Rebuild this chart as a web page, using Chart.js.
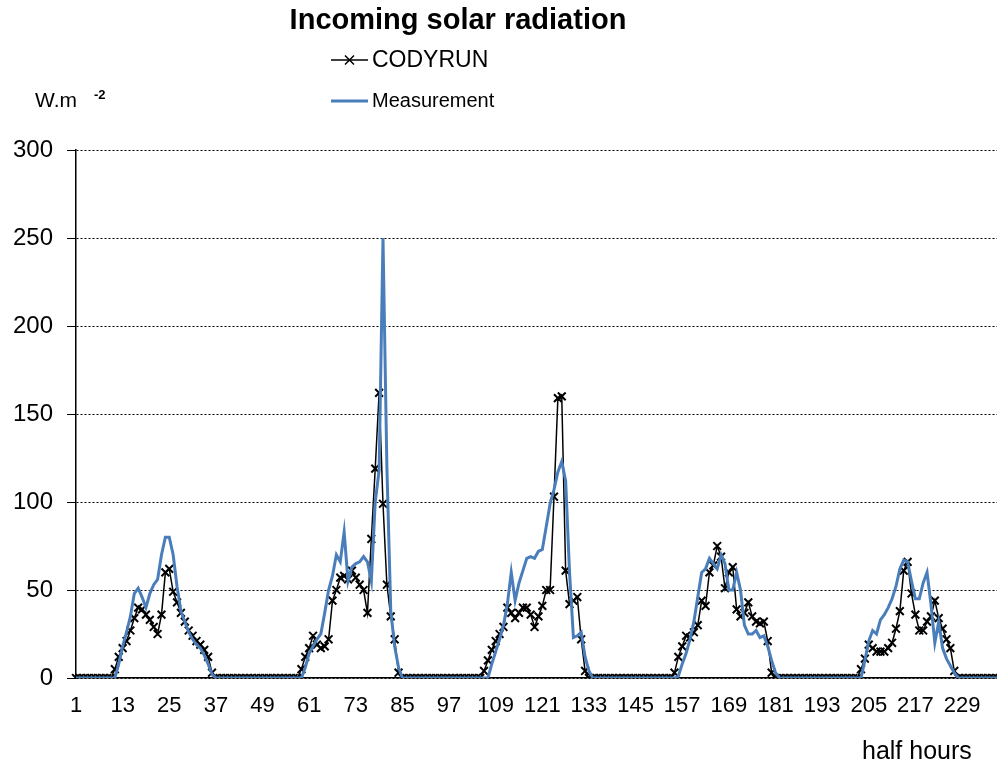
<!DOCTYPE html>
<html>
<head>
<meta charset="utf-8">
<script src="https://cdn.jsdelivr.net/npm/chart.js@4.4.0/dist/chart.umd.min.js"></script>
<style>
  html, body { margin: 0; padding: 0; background: #fff; }
  #wrap { position: relative; width: 997px; height: 772px; }
</style>
</head>
<body>
<div id="wrap"><canvas id="solarChart" width="997" height="772"></canvas></div>
<script>
// half-hour index 1..238 (5 days shown)
const halfHours = [];
for (let i = 1; i <= 238; i++) halfHours.push(String(i));

// W.m-2
const codyrun = [
  0,0,0,0,0,0,0,0,0,0,5,12,
  17,21,27,34,40,39,36,33,29,25,36,60,
  62,49,43,37,32,27,24,21,19,16,12,3,
  0,0,0,0,0,0,0,0,0,0,0,0,
  0,0,0,0,0,0,0,0,0,0,5,12,
  17,24,19,17,18,22,44,50,57,58,56,61,
  57,53,50,37,79,119,162,99,53,35,22,3,
  0,0,0,0,0,0,0,0,0,0,0,0,
  0,0,0,0,0,0,0,0,0,4,10,16,
  21,25,29,40,37,34,37,40,40,36,29,35,
  41,50,50,103,159,160,61,42,44,46,22,4,
  0,0,0,0,0,0,0,0,0,0,0,0,
  0,0,0,0,0,0,0,0,0,0,3,12,
  18,24,23,26,30,44,41,60,64,75,69,51,
  60,63,39,35,37,43,35,32,31,32,21,3,
  0,0,0,0,0,0,0,0,0,0,0,0,
  0,0,0,0,0,0,0,0,0,0,5,11,
  19,17,15,15,15,17,20,28,38,61,66,48,
  36,27,27,32,35,44,34,28,22,17,4,0,
  0,0,0,0,0,0,0,0,0,0
];

const measurement = [
  0,0,0,0,0,0,0,0,0,0,0,8,
  18,26,35,48,51,46,40,48,53,56,70,80,
  80,70,52,38,32,26,22,19,17,13,8,2,
  0,0,0,0,0,0,0,0,0,0,0,0,
  0,0,0,0,0,0,0,0,0,0,0,6,
  14,18,22,25,37,50,58,70,66,83,55,63,
  65,66,69,66,55,100,118,250,120,38,18,6,
  0,0,0,0,0,0,0,0,0,0,0,0,
  0,0,0,0,0,0,0,0,0,0,0,8,
  15,22,30,42,60,44,54,61,68,69,68,72,
  73,86,99,107,117,123,112,60,23,24,26,12,
  4,0,0,0,0,0,0,0,0,0,0,0,
  0,0,0,0,0,0,0,0,0,0,0,1,
  8,14,22,32,46,60,62,68,65,62,70,65,
  50,50,60,50,30,25,25,27,23,24,18,10,
  3,0,0,0,0,0,0,0,0,0,0,0,
  0,0,0,0,0,0,0,0,0,0,0,10,
  21,27,25,33,36,40,45,52,62,67,66,55,
  45,45,54,60,42,20,32,17,11,7,3,0,
  0,0,0,0,0,0,0,0,0,0
];

const labelEvery = 12;
const blue = '#4A7EBB';

// title, legend and axis captions drawn at fixed spots like the original
const extraText = {
  id: 'extraText',
  afterDraw(chart) {
    const ctx = chart.ctx;
    ctx.save();
    ctx.fillStyle = '#000';
    ctx.textBaseline = 'middle';

    ctx.font = 'bold 29px "Liberation Sans", Arial, sans-serif';
    ctx.textAlign = 'center';
    ctx.fillText('Incoming solar radiation', 458, 21);

    ctx.textAlign = 'left';
    // legend: CODYRUN
    ctx.strokeStyle = '#000';
    ctx.lineWidth = 1.5;
    ctx.beginPath(); ctx.moveTo(331, 60); ctx.lineTo(368, 60); ctx.stroke();
    ctx.beginPath();
    ctx.moveTo(345, 55.5); ctx.lineTo(354, 64.5);
    ctx.moveTo(354, 55.5); ctx.lineTo(345, 64.5);
    ctx.stroke();
    ctx.font = '23px "Liberation Sans", Arial, sans-serif';
    ctx.fillText('CODYRUN', 372, 61);
    // legend: Measurement
    ctx.strokeStyle = blue;
    ctx.lineWidth = 3;
    ctx.beginPath(); ctx.moveTo(331, 101); ctx.lineTo(368, 101); ctx.stroke();
    ctx.font = '20px "Liberation Sans", Arial, sans-serif';
    ctx.fillText('Measurement', 372, 101);

    // unit
    ctx.font = '21px "Liberation Sans", Arial, sans-serif';
    ctx.fillText('W.m', 35, 101);
    ctx.font = 'bold 13px "Liberation Sans", Arial, sans-serif';
    ctx.fillText('-2', 94, 95);

    // x axis caption
    ctx.font = '25px "Liberation Sans", Arial, sans-serif';
    ctx.fillText('half hours', 862, 752);
    ctx.restore();
  }
};

new Chart(document.getElementById('solarChart'), {
  type: 'line',
  data: {
    labels: halfHours,
    datasets: [
      { label: 'Measurement', data: measurement, borderColor: blue, borderWidth: 3,
        pointRadius: 0, tension: 0, order: 0 },
      { label: 'CODYRUN', data: codyrun, borderColor: '#000', borderWidth: 1.5,
        pointStyle: 'crossRot', pointRadius: 5.5, pointBorderWidth: 2,
        pointBorderColor: '#000', tension: 0, order: 1 }
    ]
  },
  options: {
    responsive: false,
    animation: false,
    layout: { autoPadding: false, padding: { top: 150, left: 0, right: 0, bottom: 0 } },
    plugins: { legend: { display: false }, title: { display: false }, tooltip: { enabled: false } },
    scales: {
      x: {
        offset: false,
        grid: { display: false, drawTicks: true, tickLength: 15 },
        border: { display: true, color: '#000', width: 1.5 },
        ticks: {
          autoSkip: false, maxRotation: 0, minRotation: 0, padding: 0, color: '#000',
          font: { family: '"Liberation Sans", Arial, sans-serif', size: 22 },
          callback: (v, i) => (i % labelEvery === 0 ? halfHours[i] : '')
        },
        afterFit: s => { s.height = 94; s.paddingRight = 0; s.paddingLeft = 0; }
      },
      y: {
        min: 0, max: 300,
        grid: { color: '#000', lineWidth: 1, tickLength: 9 },
        border: { display: true, color: '#000', width: 1.5, dash: [2, 2] },
        ticks: {
          stepSize: 50, padding: 14, color: '#000',
          font: { family: '"Liberation Sans", Arial, sans-serif', size: 24 }
        },
        afterFit: s => { s.width = 76; }
      }
    }
  },
  plugins: [extraText]
});
</script>
</body>
</html>
